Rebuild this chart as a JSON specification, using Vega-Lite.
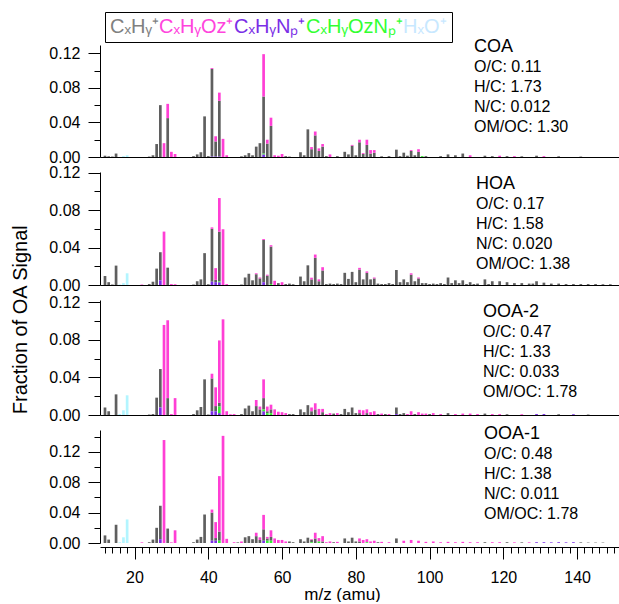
{
  "$schema": "https://vega.github.io/schema/vega-lite/v6.json",
  "padding": {"left": 10, "top": 11, "right": 0, "bottom": 0},
  "config": {
    "font": "Liberation Sans",
    "view": {"stroke": null},
    "concat": {"spacing": 15},
    "axis": {"labelFont": "Liberation Sans", "labelFontSize": 16, "labelColor": "black", "domainColor": "black", "tickColor": "black", "grid": false, "titleFont": "Liberation Sans", "titleFontWeight": "normal", "titleColor": "black", "titleFontSize": 20},
    "title": {"anchor": "start", "frame": "group", "orient": "top", "font": "Liberation Sans", "fontSize": 18, "fontWeight": "normal", "color": "black", "subtitleFont": "Liberation Sans", "subtitleFontSize": 16, "subtitleColor": "black", "subtitleLineHeight": 20, "subtitlePadding": 0}
  },
  "title": {"text": "Fraction of OA Signal", "orient": "left", "anchor": "middle", "frame": "bounds", "fontSize": 20, "offset": 18, "dx": -13, "font": "Liberation Sans", "fontWeight": "normal", "color": "black"},
  "bounds": "flush",
  "datasets": {
    "rank": [
      {"family": "CxHyNp", "rank": 1},
      {"family": "CxHyOzNp", "rank": 2},
      {"family": "CxHy", "rank": 3},
      {"family": "CxHyOz", "rank": 4},
      {"family": "HxO", "rank": 5}
    ],
    "spectra": [
      {"p":"COA","mz":12,"CxHy":0.0015},
      {"p":"COA","mz":13,"CxHy":0.0008},
      {"p":"COA","mz":14,"CxHy":0.0005},
      {"p":"COA","mz":15,"CxHy":0.004},
      {"p":"COA","mz":17,"HxO":0.001},
      {"p":"COA","mz":18,"HxO":0.002},
      {"p":"COA","mz":24,"CxHy":0.0005},
      {"p":"COA","mz":25,"CxHy":0.002},
      {"p":"COA","mz":26,"CxHy":0.015},
      {"p":"COA","mz":27,"CxHy":0.06},
      {"p":"COA","mz":28,"CxHyOz":0.016},
      {"p":"COA","mz":29,"CxHy":0.045,"CxHyOz":0.0165},
      {"p":"COA","mz":30,"CxHyOz":0.006},
      {"p":"COA","mz":31,"CxHyOz":0.0035},
      {"p":"COA","mz":36,"CxHy":0.001},
      {"p":"COA","mz":37,"CxHy":0.003},
      {"p":"COA","mz":38,"CxHy":0.0055},
      {"p":"COA","mz":39,"CxHy":0.047},
      {"p":"COA","mz":40,"CxHy":0.001},
      {"p":"COA","mz":41,"CxHyNp":0.0005,"CxHy":0.1015,"CxHyOz":0.001},
      {"p":"COA","mz":42,"CxHyNp":0.0005,"CxHy":0.0175,"CxHyOz":0.006},
      {"p":"COA","mz":43,"CxHyNp":0.0005,"CxHy":0.0645,"CxHyOz":0.0095},
      {"p":"COA","mz":44,"CxHyOz":0.021},
      {"p":"COA","mz":45,"CxHyOz":0.002},
      {"p":"COA","mz":49,"CxHy":0.0008},
      {"p":"COA","mz":50,"CxHy":0.002},
      {"p":"COA","mz":51,"CxHy":0.0045},
      {"p":"COA","mz":52,"CxHy":0.002},
      {"p":"COA","mz":53,"CxHy":0.012},
      {"p":"COA","mz":54,"CxHy":0.016},
      {"p":"COA","mz":55,"CxHyNp":0.003,"CxHyOzNp":0.001,"CxHy":0.066,"CxHyOz":0.049},
      {"p":"COA","mz":56,"CxHy":0.0155,"CxHyOz":0.0045},
      {"p":"COA","mz":57,"CxHy":0.036,"CxHyOz":0.0095},
      {"p":"COA","mz":58,"CxHyOz":0.002},
      {"p":"COA","mz":59,"CxHyOz":0.0015},
      {"p":"COA","mz":60,"CxHyOz":0.0035},
      {"p":"COA","mz":61,"CxHy":0.001},
      {"p":"COA","mz":62,"CxHy":0.0005},
      {"p":"COA","mz":65,"CxHy":0.0055},
      {"p":"COA","mz":66,"CxHy":0.002},
      {"p":"COA","mz":67,"CxHy":0.032},
      {"p":"COA","mz":68,"CxHy":0.009,"CxHyOz":0.0025},
      {"p":"COA","mz":69,"CxHy":0.025,"CxHyOz":0.0045},
      {"p":"COA","mz":70,"CxHy":0.007,"CxHyOz":0.003},
      {"p":"COA","mz":71,"CxHy":0.012,"CxHyOz":0.003},
      {"p":"COA","mz":72,"CxHy":0.001},
      {"p":"COA","mz":73,"CxHyOz":0.003},
      {"p":"COA","mz":75,"CxHy":0.001},
      {"p":"COA","mz":77,"CxHy":0.006},
      {"p":"COA","mz":78,"CxHy":0.003},
      {"p":"COA","mz":79,"CxHy":0.013,"CxHyOz":0.001},
      {"p":"COA","mz":80,"CxHy":0.002},
      {"p":"COA","mz":81,"CxHy":0.017,"CxHyOz":0.003},
      {"p":"COA","mz":82,"CxHy":0.0035,"CxHyOz":0.001},
      {"p":"COA","mz":83,"CxHy":0.014,"CxHyOz":0.006},
      {"p":"COA","mz":84,"CxHy":0.004,"CxHyOz":0.004},
      {"p":"COA","mz":85,"CxHy":0.005,"CxHyOz":0.003},
      {"p":"COA","mz":87,"CxHy":0.0008},
      {"p":"COA","mz":89,"CxHy":0.001},
      {"p":"COA","mz":91,"CxHy":0.0085},
      {"p":"COA","mz":92,"CxHy":0.001},
      {"p":"COA","mz":93,"CxHy":0.005},
      {"p":"COA","mz":94,"CxHy":0.0015},
      {"p":"COA","mz":95,"CxHy":0.007,"CxHyOz":0.001},
      {"p":"COA","mz":96,"CxHy":0.002},
      {"p":"COA","mz":97,"CxHy":0.006,"CxHyOz":0.003},
      {"p":"COA","mz":98,"CxHyOzNp":0.001},
      {"p":"COA","mz":99,"CxHy":0.001},
      {"p":"COA","mz":103,"CxHy":0.001},
      {"p":"COA","mz":105,"CxHy":0.003},
      {"p":"COA","mz":107,"CxHy":0.002},
      {"p":"COA","mz":109,"CxHy":0.004},
      {"p":"COA","mz":111,"CxHyOz":0.002},
      {"p":"COA","mz":115,"CxHy":0.0015},
      {"p":"COA","mz":117,"CxHy":0.001},
      {"p":"COA","mz":119,"CxHyOz":0.0015},
      {"p":"COA","mz":121,"CxHy":0.001},
      {"p":"COA","mz":123,"CxHyOz":0.001},
      {"p":"COA","mz":125,"CxHy":0.0008},
      {"p":"COA","mz":129,"CxHy":0.0015},
      {"p":"COA","mz":131,"CxHyOz":0.001},
      {"p":"COA","mz":135,"CxHy":0.0008},
      {"p":"COA","mz":141,"CxHy":0.0005},

      {"p":"HOA","mz":12,"CxHy":0.0096},
      {"p":"HOA","mz":13,"CxHy":0.003},
      {"p":"HOA","mz":14,"CxHy":0.0005},
      {"p":"HOA","mz":15,"CxHy":0.0207},
      {"p":"HOA","mz":16,"HxO":0.0005},
      {"p":"HOA","mz":17,"HxO":0.002},
      {"p":"HOA","mz":18,"HxO":0.0125},
      {"p":"HOA","mz":22,"CxHyOz":0.0005},
      {"p":"HOA","mz":24,"CxHy":0.001},
      {"p":"HOA","mz":25,"CxHy":0.0035},
      {"p":"HOA","mz":26,"CxHy":0.0175},
      {"p":"HOA","mz":27,"CxHyNp":0.005,"CxHy":0.03},
      {"p":"HOA","mz":28,"CxHyOz":0.057},
      {"p":"HOA","mz":29,"CxHy":0.0185},
      {"p":"HOA","mz":30,"CxHyOz":0.001},
      {"p":"HOA","mz":31,"CxHyOz":0.0008},
      {"p":"HOA","mz":36,"CxHy":0.0005},
      {"p":"HOA","mz":37,"CxHy":0.004},
      {"p":"HOA","mz":38,"CxHy":0.006},
      {"p":"HOA","mz":39,"CxHy":0.034},
      {"p":"HOA","mz":40,"CxHy":0.0008},
      {"p":"HOA","mz":41,"CxHyNp":0.0035,"CxHy":0.0565,"CxHyOz":0.0015},
      {"p":"HOA","mz":42,"CxHyNp":0.003,"CxHy":0.0025,"CxHyOz":0.0125},
      {"p":"HOA","mz":43,"CxHyNp":0.003,"CxHyOzNp":0.0008,"CxHy":0.053,"CxHyOz":0.036},
      {"p":"HOA","mz":44,"CxHyOz":0.0595},
      {"p":"HOA","mz":45,"CxHyOz":0.001},
      {"p":"HOA","mz":49,"CxHy":0.0005},
      {"p":"HOA","mz":50,"CxHy":0.008},
      {"p":"HOA","mz":51,"CxHy":0.012},
      {"p":"HOA","mz":52,"CxHy":0.005},
      {"p":"HOA","mz":53,"CxHy":0.0115,"CxHyOz":0.001},
      {"p":"HOA","mz":54,"CxHy":0.007,"CxHyOz":0.001},
      {"p":"HOA","mz":55,"CxHyNp":0.003,"CxHy":0.045,"CxHyOz":0.001},
      {"p":"HOA","mz":56,"CxHy":0.01,"CxHyOz":0.001},
      {"p":"HOA","mz":57,"CxHyOzNp":0.001,"CxHy":0.04,"CxHyOz":0.0015},
      {"p":"HOA","mz":58,"CxHyOz":0.0045},
      {"p":"HOA","mz":59,"CxHy":0.002},
      {"p":"HOA","mz":60,"CxHyOz":0.003},
      {"p":"HOA","mz":61,"CxHy":0.001},
      {"p":"HOA","mz":62,"CxHy":0.0015},
      {"p":"HOA","mz":63,"CxHy":0.0008},
      {"p":"HOA","mz":65,"CxHy":0.009},
      {"p":"HOA","mz":66,"CxHy":0.004},
      {"p":"HOA","mz":67,"CxHy":0.021},
      {"p":"HOA","mz":68,"CxHy":0.006,"CxHyOz":0.0018},
      {"p":"HOA","mz":69,"CxHy":0.029,"CxHyOz":0.0035},
      {"p":"HOA","mz":70,"CxHy":0.004,"CxHyOz":0.002},
      {"p":"HOA","mz":71,"CxHy":0.0155,"CxHyOz":0.0035},
      {"p":"HOA","mz":72,"CxHy":0.001},
      {"p":"HOA","mz":73,"CxHy":0.0015},
      {"p":"HOA","mz":74,"CxHy":0.001},
      {"p":"HOA","mz":75,"CxHy":0.0015},
      {"p":"HOA","mz":76,"CxHy":0.001},
      {"p":"HOA","mz":77,"CxHy":0.013},
      {"p":"HOA","mz":78,"CxHy":0.0065},
      {"p":"HOA","mz":79,"CxHy":0.014},
      {"p":"HOA","mz":80,"CxHy":0.003},
      {"p":"HOA","mz":81,"CxHy":0.0165,"CxHyOz":0.0018},
      {"p":"HOA","mz":82,"CxHy":0.006},
      {"p":"HOA","mz":83,"CxHy":0.013,"CxHyOz":0.0015},
      {"p":"HOA","mz":84,"CxHy":0.006},
      {"p":"HOA","mz":85,"CxHy":0.007,"CxHyOz":0.001},
      {"p":"HOA","mz":86,"CxHy":0.0015},
      {"p":"HOA","mz":87,"CxHy":0.001},
      {"p":"HOA","mz":88,"CxHy":0.001},
      {"p":"HOA","mz":89,"CxHy":0.002},
      {"p":"HOA","mz":90,"CxHy":0.001},
      {"p":"HOA","mz":91,"CxHy":0.016},
      {"p":"HOA","mz":92,"CxHy":0.003},
      {"p":"HOA","mz":93,"CxHy":0.006},
      {"p":"HOA","mz":94,"CxHy":0.003},
      {"p":"HOA","mz":95,"CxHy":0.011,"CxHyOz":0.0015},
      {"p":"HOA","mz":96,"CxHy":0.004},
      {"p":"HOA","mz":97,"CxHy":0.007,"CxHyOz":0.001},
      {"p":"HOA","mz":98,"CxHy":0.002},
      {"p":"HOA","mz":99,"CxHy":0.002},
      {"p":"HOA","mz":100,"CxHy":0.001},
      {"p":"HOA","mz":101,"CxHy":0.0015},
      {"p":"HOA","mz":102,"CxHy":0.001},
      {"p":"HOA","mz":103,"CxHy":0.002},
      {"p":"HOA","mz":104,"CxHy":0.001},
      {"p":"HOA","mz":105,"CxHy":0.008},
      {"p":"HOA","mz":106,"CxHy":0.002},
      {"p":"HOA","mz":107,"CxHy":0.005},
      {"p":"HOA","mz":108,"CxHy":0.002},
      {"p":"HOA","mz":109,"CxHy":0.005},
      {"p":"HOA","mz":110,"CxHy":0.001},
      {"p":"HOA","mz":111,"CxHy":0.003},
      {"p":"HOA","mz":112,"CxHy":0.001},
      {"p":"HOA","mz":113,"CxHy":0.0015},
      {"p":"HOA","mz":115,"CxHy":0.006},
      {"p":"HOA","mz":116,"CxHy":0.001},
      {"p":"HOA","mz":117,"CxHy":0.004},
      {"p":"HOA","mz":119,"CxHy":0.004},
      {"p":"HOA","mz":121,"CxHy":0.003},
      {"p":"HOA","mz":123,"CxHy":0.002},
      {"p":"HOA","mz":125,"CxHy":0.002},
      {"p":"HOA","mz":127,"CxHy":0.0015},
      {"p":"HOA","mz":128,"CxHy":0.0015},
      {"p":"HOA","mz":129,"CxHy":0.004},
      {"p":"HOA","mz":131,"CxHy":0.0025},
      {"p":"HOA","mz":133,"CxHy":0.0015},
      {"p":"HOA","mz":135,"CxHy":0.0015},
      {"p":"HOA","mz":137,"CxHy":0.001},
      {"p":"HOA","mz":139,"CxHy":0.001},
      {"p":"HOA","mz":141,"CxHy":0.001},
      {"p":"HOA","mz":143,"CxHy":0.001},
      {"p":"HOA","mz":145,"CxHy":0.001},
      {"p":"HOA","mz":147,"CxHy":0.0008},
      {"p":"HOA","mz":149,"CxHy":0.0008},

      {"p":"OOA-2","mz":12,"CxHy":0.008},
      {"p":"OOA-2","mz":13,"CxHy":0.004},
      {"p":"OOA-2","mz":15,"CxHy":0.022},
      {"p":"OOA-2","mz":16,"HxO":0.001},
      {"p":"OOA-2","mz":17,"HxO":0.005},
      {"p":"OOA-2","mz":18,"HxO":0.021},
      {"p":"OOA-2","mz":24,"CxHy":0.0005},
      {"p":"OOA-2","mz":25,"CxHy":0.001},
      {"p":"OOA-2","mz":26,"CxHy":0.0185},
      {"p":"OOA-2","mz":27,"CxHyNp":0.008,"CxHy":0.041},
      {"p":"OOA-2","mz":28,"CxHyOz":0.096},
      {"p":"OOA-2","mz":29,"CxHy":0.018,"CxHyOz":0.083},
      {"p":"OOA-2","mz":30,"CxHyOz":0.001},
      {"p":"OOA-2","mz":31,"CxHyOz":0.018},
      {"p":"OOA-2","mz":36,"CxHy":0.001},
      {"p":"OOA-2","mz":37,"CxHy":0.005},
      {"p":"OOA-2","mz":38,"CxHy":0.0085},
      {"p":"OOA-2","mz":39,"CxHy":0.038},
      {"p":"OOA-2","mz":40,"CxHy":0.0005},
      {"p":"OOA-2","mz":41,"CxHyNp":0.004,"CxHy":0.035,"CxHyOz":0.005},
      {"p":"OOA-2","mz":42,"CxHyNp":0.004,"CxHy":0.0055,"CxHyOz":0.02},
      {"p":"OOA-2","mz":43,"CxHyNp":0.002,"CxHyOzNp":0.007,"CxHy":0.004,"CxHyOz":0.0665},
      {"p":"OOA-2","mz":44,"CxHyOz":0.102},
      {"p":"OOA-2","mz":45,"CxHyOz":0.004},
      {"p":"OOA-2","mz":46,"CxHyOz":0.0008},
      {"p":"OOA-2","mz":47,"CxHyOz":0.001},
      {"p":"OOA-2","mz":49,"CxHy":0.001},
      {"p":"OOA-2","mz":50,"CxHy":0.007},
      {"p":"OOA-2","mz":51,"CxHy":0.01},
      {"p":"OOA-2","mz":52,"CxHy":0.004},
      {"p":"OOA-2","mz":53,"CxHy":0.0095,"CxHyOz":0.0065},
      {"p":"OOA-2","mz":54,"CxHy":0.006,"CxHyOz":0.003},
      {"p":"OOA-2","mz":55,"CxHyNp":0.004,"CxHyOzNp":0.002,"CxHy":0.012,"CxHyOz":0.02},
      {"p":"OOA-2","mz":56,"CxHyOzNp":0.002,"CxHy":0.002,"CxHyOz":0.005},
      {"p":"OOA-2","mz":57,"CxHyOzNp":0.002,"CxHy":0.004,"CxHyOz":0.005},
      {"p":"OOA-2","mz":58,"CxHyOz":0.006},
      {"p":"OOA-2","mz":59,"CxHyOz":0.0035},
      {"p":"OOA-2","mz":60,"CxHyOz":0.003},
      {"p":"OOA-2","mz":61,"CxHyOz":0.002},
      {"p":"OOA-2","mz":62,"CxHy":0.001},
      {"p":"OOA-2","mz":63,"CxHy":0.001},
      {"p":"OOA-2","mz":65,"CxHy":0.006},
      {"p":"OOA-2","mz":66,"CxHy":0.003},
      {"p":"OOA-2","mz":67,"CxHy":0.0105},
      {"p":"OOA-2","mz":68,"CxHy":0.004,"CxHyOz":0.004},
      {"p":"OOA-2","mz":69,"CxHy":0.006,"CxHyOz":0.0065},
      {"p":"OOA-2","mz":70,"CxHyOz":0.0065},
      {"p":"OOA-2","mz":71,"CxHy":0.003,"CxHyOz":0.0035},
      {"p":"OOA-2","mz":72,"CxHyOz":0.001},
      {"p":"OOA-2","mz":73,"CxHyOz":0.002},
      {"p":"OOA-2","mz":74,"CxHy":0.0015},
      {"p":"OOA-2","mz":75,"CxHyOz":0.002},
      {"p":"OOA-2","mz":76,"CxHy":0.001},
      {"p":"OOA-2","mz":77,"CxHy":0.0065},
      {"p":"OOA-2","mz":78,"CxHy":0.003},
      {"p":"OOA-2","mz":79,"CxHy":0.008},
      {"p":"OOA-2","mz":80,"CxHy":0.002},
      {"p":"OOA-2","mz":81,"CxHy":0.002,"CxHyOz":0.0035},
      {"p":"OOA-2","mz":82,"CxHyOz":0.005},
      {"p":"OOA-2","mz":83,"CxHy":0.002,"CxHyOz":0.004},
      {"p":"OOA-2","mz":84,"CxHyOz":0.003},
      {"p":"OOA-2","mz":85,"CxHyOz":0.004},
      {"p":"OOA-2","mz":86,"CxHy":0.001},
      {"p":"OOA-2","mz":87,"CxHyOz":0.0015},
      {"p":"OOA-2","mz":88,"CxHy":0.001},
      {"p":"OOA-2","mz":89,"CxHyOz":0.001},
      {"p":"OOA-2","mz":91,"CxHyNp":0.001,"CxHy":0.007},
      {"p":"OOA-2","mz":92,"CxHy":0.001},
      {"p":"OOA-2","mz":93,"CxHy":0.002},
      {"p":"OOA-2","mz":94,"CxHyOz":0.001},
      {"p":"OOA-2","mz":95,"CxHyOz":0.004},
      {"p":"OOA-2","mz":96,"CxHy":0.001},
      {"p":"OOA-2","mz":97,"CxHyOz":0.003},
      {"p":"OOA-2","mz":98,"CxHyOz":0.0015},
      {"p":"OOA-2","mz":99,"CxHyOz":0.0015},
      {"p":"OOA-2","mz":100,"CxHy":0.001},
      {"p":"OOA-2","mz":101,"CxHyOz":0.002},
      {"p":"OOA-2","mz":103,"CxHyOz":0.001},
      {"p":"OOA-2","mz":105,"CxHy":0.002},
      {"p":"OOA-2","mz":107,"CxHyOz":0.001},
      {"p":"OOA-2","mz":109,"CxHyOz":0.0015},
      {"p":"OOA-2","mz":111,"CxHyOz":0.0015},
      {"p":"OOA-2","mz":113,"CxHyOz":0.001},
      {"p":"OOA-2","mz":115,"CxHy":0.0015},
      {"p":"OOA-2","mz":117,"CxHyOz":0.001},
      {"p":"OOA-2","mz":119,"CxHyOz":0.001},
      {"p":"OOA-2","mz":121,"CxHy":0.0008},
      {"p":"OOA-2","mz":125,"CxHyOz":0.0008},
      {"p":"OOA-2","mz":129,"CxHyNp":0.001},
      {"p":"OOA-2","mz":131,"CxHyNp":0.001},
      {"p":"OOA-2","mz":135,"CxHy":0.0008},
      {"p":"OOA-2","mz":139,"CxHyNp":0.0008},
      {"p":"OOA-2","mz":143,"CxHy":0.0005},

      {"p":"OOA-1","mz":12,"CxHy":0.01},
      {"p":"OOA-1","mz":13,"CxHy":0.0045},
      {"p":"OOA-1","mz":15,"CxHy":0.024},
      {"p":"OOA-1","mz":16,"HxO":0.001},
      {"p":"OOA-1","mz":17,"HxO":0.0075},
      {"p":"OOA-1","mz":18,"HxO":0.031},
      {"p":"OOA-1","mz":22,"CxHyOz":0.0008},
      {"p":"OOA-1","mz":24,"CxHy":0.001},
      {"p":"OOA-1","mz":25,"CxHy":0.0045},
      {"p":"OOA-1","mz":26,"CxHy":0.02},
      {"p":"OOA-1","mz":27,"CxHyNp":0.005,"CxHy":0.044},
      {"p":"OOA-1","mz":28,"CxHyOz":0.1355},
      {"p":"OOA-1","mz":29,"CxHy":0.019},
      {"p":"OOA-1","mz":30,"CxHyOz":0.0008},
      {"p":"OOA-1","mz":31,"CxHyOz":0.0167},
      {"p":"OOA-1","mz":36,"CxHy":0.001},
      {"p":"OOA-1","mz":37,"CxHy":0.0045},
      {"p":"OOA-1","mz":38,"CxHy":0.008},
      {"p":"OOA-1","mz":39,"CxHy":0.0375},
      {"p":"OOA-1","mz":41,"CxHyNp":0.003,"CxHy":0.037,"CxHyOz":0.004},
      {"p":"OOA-1","mz":42,"CxHyNp":0.003,"CxHy":0.0035,"CxHyOz":0.021},
      {"p":"OOA-1","mz":43,"CxHyOzNp":0.003,"CxHy":0.012,"CxHyOz":0.073},
      {"p":"OOA-1","mz":44,"CxHyOz":0.141},
      {"p":"OOA-1","mz":45,"CxHyOz":0.0055},
      {"p":"OOA-1","mz":47,"CxHyOz":0.001},
      {"p":"OOA-1","mz":48,"CxHy":0.0008},
      {"p":"OOA-1","mz":49,"CxHyOz":0.002},
      {"p":"OOA-1","mz":50,"CxHy":0.0075},
      {"p":"OOA-1","mz":51,"CxHy":0.009},
      {"p":"OOA-1","mz":52,"CxHy":0.005},
      {"p":"OOA-1","mz":53,"CxHy":0.009,"CxHyOz":0.0045},
      {"p":"OOA-1","mz":54,"CxHy":0.004,"CxHyOz":0.0035},
      {"p":"OOA-1","mz":55,"CxHyNp":0.003,"CxHy":0.015,"CxHyOz":0.019},
      {"p":"OOA-1","mz":56,"CxHyOzNp":0.003,"CxHy":0.003,"CxHyOz":0.002},
      {"p":"OOA-1","mz":57,"CxHyOzNp":0.003,"CxHy":0.005,"CxHyOz":0.0087},
      {"p":"OOA-1","mz":58,"CxHyOz":0.006},
      {"p":"OOA-1","mz":59,"CxHyOz":0.004},
      {"p":"OOA-1","mz":60,"CxHyOz":0.004},
      {"p":"OOA-1","mz":61,"CxHyOz":0.002},
      {"p":"OOA-1","mz":62,"CxHy":0.002},
      {"p":"OOA-1","mz":63,"CxHy":0.001},
      {"p":"OOA-1","mz":65,"CxHy":0.005},
      {"p":"OOA-1","mz":66,"CxHy":0.002},
      {"p":"OOA-1","mz":67,"CxHy":0.007},
      {"p":"OOA-1","mz":68,"CxHyOzNp":0.001,"CxHy":0.003,"CxHyOz":0.001},
      {"p":"OOA-1","mz":69,"CxHy":0.006,"CxHyOz":0.0075},
      {"p":"OOA-1","mz":70,"CxHyOzNp":0.002,"CxHyOz":0.0045},
      {"p":"OOA-1","mz":71,"CxHy":0.002,"CxHyOz":0.007},
      {"p":"OOA-1","mz":72,"CxHyOz":0.001},
      {"p":"OOA-1","mz":73,"CxHyOz":0.002},
      {"p":"OOA-1","mz":74,"CxHy":0.001},
      {"p":"OOA-1","mz":75,"CxHyOz":0.0015},
      {"p":"OOA-1","mz":77,"CxHy":0.006},
      {"p":"OOA-1","mz":78,"CxHy":0.002},
      {"p":"OOA-1","mz":79,"CxHy":0.007},
      {"p":"OOA-1","mz":80,"CxHy":0.002},
      {"p":"OOA-1","mz":81,"CxHy":0.002,"CxHyOz":0.004},
      {"p":"OOA-1","mz":82,"CxHyOz":0.004},
      {"p":"OOA-1","mz":83,"CxHyOzNp":0.001,"CxHyOz":0.004},
      {"p":"OOA-1","mz":84,"CxHyOz":0.002},
      {"p":"OOA-1","mz":85,"CxHyOz":0.003},
      {"p":"OOA-1","mz":86,"CxHy":0.001},
      {"p":"OOA-1","mz":87,"CxHyOz":0.0015},
      {"p":"OOA-1","mz":89,"CxHyOz":0.001},
      {"p":"OOA-1","mz":91,"CxHy":0.006},
      {"p":"OOA-1","mz":93,"CxHyOz":0.003},
      {"p":"OOA-1","mz":95,"CxHyOz":0.004},
      {"p":"OOA-1","mz":97,"CxHyOz":0.003},
      {"p":"OOA-1","mz":99,"CxHyOz":0.0015},
      {"p":"OOA-1","mz":101,"CxHyOz":0.002},
      {"p":"OOA-1","mz":103,"CxHyOz":0.001},
      {"p":"OOA-1","mz":105,"CxHyOz":0.0015},
      {"p":"OOA-1","mz":107,"CxHyOz":0.001},
      {"p":"OOA-1","mz":109,"CxHyOz":0.0015},
      {"p":"OOA-1","mz":111,"CxHyOz":0.001},
      {"p":"OOA-1","mz":113,"CxHyOz":0.001},
      {"p":"OOA-1","mz":115,"CxHy":0.001},
      {"p":"OOA-1","mz":117,"CxHyOz":0.001},
      {"p":"OOA-1","mz":119,"CxHyOz":0.001},
      {"p":"OOA-1","mz":121,"CxHy":0.001},
      {"p":"OOA-1","mz":123,"CxHyOz":0.0008},
      {"p":"OOA-1","mz":125,"CxHy":0.0008},
      {"p":"OOA-1","mz":127,"CxHyOz":0.0008},
      {"p":"OOA-1","mz":129,"CxHyNp":0.001},
      {"p":"OOA-1","mz":131,"CxHyNp":0.001},
      {"p":"OOA-1","mz":133,"CxHyNp":0.0008},
      {"p":"OOA-1","mz":135,"CxHyNp":0.001},
      {"p":"OOA-1","mz":137,"CxHyNp":0.0008},
      {"p":"OOA-1","mz":139,"CxHyNp":0.001},
      {"p":"OOA-1","mz":141,"CxHy":0.0008},
      {"p":"OOA-1","mz":143,"CxHy":0.0005},
      {"p":"OOA-1","mz":145,"CxHy":0.0005},
      {"p":"OOA-1","mz":147,"CxHy":0.0005}
    ]
  },
  "data": {"name": "spectra"},
  "transform": [
    {"fold": ["CxHy", "CxHyOz", "CxHyNp", "CxHyOzNp", "HxO"], "as": ["family", "value"]},
    {"filter": "isValid(datum.value) && datum.value > 0"},
    {"lookup": "family", "from": {"data": {"name": "rank"}, "key": "family", "fields": ["rank"]}}
  ],
  "resolve": {"scale": {"x": "independent", "y": "independent", "color": "shared"}},
  "vconcat": [
    {
      "width": 519, "height": 112,
      "title": {"text": "\u2009COA", "subtitle": ["O/C: 0.11", "H/C: 1.73", "N/C: 0.012", "OM/OC: 1.30"], "dx": 374, "offset": -90},
      "transform": [{"filter": "datum.p === 'COA'"}],
      "mark": {"type": "bar", "size": 2.7},
      "encoding": {
        "x": {"field": "mz", "type": "quantitative", "scale": {"domain": [12, 150], "nice": false, "zero": false}, "axis": {"labels": false, "ticks": false, "title": null}},
        "y": {"field": "value", "type": "quantitative", "stack": "zero", "scale": {"domain": [0, 0.1296], "nice": false},
          "axis": {"values": [0, 0.02, 0.04, 0.06, 0.08, 0.1, 0.12], "format": ".2f", "title": null, "labelPadding": 8,
            "labelExpr": "abs(datum.value*25 - round(datum.value*25)) < 0.001 ? datum.label : ''",
            "tickSize": {"condition": {"test": "abs(datum.value*25 - round(datum.value*25)) < 0.001", "value": 12}, "value": 6}}},
        "color": {"field": "family", "type": "nominal",
          "scale": {"domain": ["CxHy", "CxHyOz", "CxHyNp", "CxHyOzNp", "HxO"], "range": ["#5f5f5f", "#ff3fd5", "#7a2ee6", "#33ee33", "#b3f5ff"]},
          "legend": {"orient": "none", "legendX": 5, "legendY": -33, "direction": "horizontal", "columns": 5, "title": null,
            "symbolSize": 0, "symbolStrokeWidth": 0, "symbolOpacity": 0, "labelOffset": -20, "columnPadding": 0,
            "labelFont": "Liberation Sans", "labelFontSize": 20, "labelLimit": 0, "strokeColor": "black", "fillColor": "white", "padding": 5,
            "labelExpr": "datum.label == 'CxHy' ? 'C\u2093H\u1d67\u207a' : datum.label == 'CxHyOz' ? 'C\u2093H\u1d67O\u1d22\u207a' : datum.label == 'CxHyNp' ? 'C\u2093H\u1d67N\u209a\u207a' : datum.label == 'CxHyOzNp' ? 'C\u2093H\u1d67O\u1d22N\u209a\u207a' : 'H\u2093O\u207a'",
            "encoding": {"labels": {"fill": {"condition": [
              {"test": "datum.value == 'CxHy'", "value": "#808080"},
              {"test": "datum.value == 'CxHyOz'", "value": "#ff44dd"},
              {"test": "datum.value == 'CxHyNp'", "value": "#7a2ee6"},
              {"test": "datum.value == 'CxHyOzNp'", "value": "#33ff33"}
            ], "value": "#c8e8ff"}}}}},
        "order": {"field": "rank", "type": "quantitative", "sort": "ascending"}
      }
    },
    {
      "width": 519, "height": 113,
      "title": {"text": "\u2002HOA", "subtitle": ["O/C: 0.17", "H/C: 1.58", "N/C: 0.020", "OM/OC: 1.38"], "dx": 376, "offset": -107},
      "transform": [{"filter": "datum.p === 'HOA'"}],
      "mark": {"type": "bar", "size": 2.7},
      "encoding": {
        "x": {"field": "mz", "type": "quantitative", "scale": {"domain": [12, 150], "nice": false, "zero": false}, "axis": {"labels": false, "ticks": false, "title": null}},
        "y": {"field": "value", "type": "quantitative", "stack": "zero", "scale": {"domain": [0, 0.1206], "nice": false},
          "axis": {"values": [0, 0.02, 0.04, 0.06, 0.08, 0.1, 0.12], "format": ".2f", "labelPadding": 8, "title": null,
            "labelExpr": "abs(datum.value*25 - round(datum.value*25)) < 0.001 ? datum.label : ''",
            "tickSize": {"condition": {"test": "abs(datum.value*25 - round(datum.value*25)) < 0.001", "value": 12}, "value": 6}}},
        "color": {"field": "family", "type": "nominal",
          "scale": {"domain": ["CxHy", "CxHyOz", "CxHyNp", "CxHyOzNp", "HxO"], "range": ["#5f5f5f", "#ff3fd5", "#7a2ee6", "#33ee33", "#b3f5ff"]}},
        "order": {"field": "rank", "type": "quantitative", "sort": "ascending"}
      }
    },
    {
      "width": 519, "height": 115,
      "title": {"text": "OOA-2", "subtitle": ["O/C: 0.47", "H/C: 1.33", "N/C: 0.033", "OM/OC: 1.78"], "dx": 383, "offset": -106},
      "transform": [{"filter": "datum.p === 'OOA-2'"}],
      "mark": {"type": "bar", "size": 2.7},
      "encoding": {
        "x": {"field": "mz", "type": "quantitative", "scale": {"domain": [12, 150], "nice": false, "zero": false}, "axis": {"labels": false, "ticks": false, "title": null}},
        "y": {"field": "value", "type": "quantitative", "stack": "zero", "scale": {"domain": [0, 0.1226], "nice": false},
          "axis": {"values": [0, 0.02, 0.04, 0.06, 0.08, 0.1, 0.12], "format": ".2f", "title": null, "labelPadding": 8,
            "labelExpr": "abs(datum.value*25 - round(datum.value*25)) < 0.001 ? datum.label : ''",
            "tickSize": {"condition": {"test": "abs(datum.value*25 - round(datum.value*25)) < 0.001", "value": 12}, "value": 6}}},
        "color": {"field": "family", "type": "nominal",
          "scale": {"domain": ["CxHy", "CxHyOz", "CxHyNp", "CxHyOzNp", "HxO"], "range": ["#5f5f5f", "#ff3fd5", "#7a2ee6", "#33ee33", "#b3f5ff"]}},
        "order": {"field": "rank", "type": "quantitative", "sort": "ascending"}
      }
    },
    {
      "width": 519, "height": 113,
      "title": {"text": "OOA-1", "subtitle": ["O/C: 0.48", "H/C: 1.38", "N/C: 0.011", "OM/OC: 1.78"], "dx": 384, "offset": -92},
      "transform": [{"filter": "datum.p === 'OOA-1'"}],
      "mark": {"type": "bar", "size": 2.7},
      "encoding": {
        "x": {"field": "mz", "type": "quantitative", "scale": {"domain": [12, 150], "nice": false, "zero": false},
          "axis": {"values": [12,14,16,18,20,22,24,26,28,30,32,34,36,38,40,42,44,46,48,50,52,54,56,58,60,62,64,66,68,70,72,74,76,78,80,82,84,86,88,90,92,94,96,98,100,102,104,106,108,110,112,114,116,118,120,122,124,126,128,130,132,134,136,138,140,142,144,146,148,150],
            "format": "d", "offset": 4, "labelPadding": 10, "labelExpr": "datum.value % 20 === 0 ? datum.label : ''",
            "tickSize": {"condition": {"test": "datum.value % 20 === 0", "value": 12}, "value": 6},
            "title": "m/z  (amu)", "titleFontSize": 17, "titlePadding": 1, "titleX": 242}},
        "y": {"field": "value", "type": "quantitative", "stack": "zero", "scale": {"domain": [0, 0.1487], "nice": false},
          "axis": {"values": [0, 0.02, 0.04, 0.06, 0.08, 0.1, 0.12, 0.14], "format": ".2f", "title": null, "labelPadding": 8,
            "labelExpr": "abs(datum.value*25 - round(datum.value*25)) < 0.001 ? datum.label : ''",
            "tickSize": {"condition": {"test": "abs(datum.value*25 - round(datum.value*25)) < 0.001", "value": 12}, "value": 6}}},
        "color": {"field": "family", "type": "nominal",
          "scale": {"domain": ["CxHy", "CxHyOz", "CxHyNp", "CxHyOzNp", "HxO"], "range": ["#5f5f5f", "#ff3fd5", "#7a2ee6", "#33ee33", "#b3f5ff"]}},
        "order": {"field": "rank", "type": "quantitative", "sort": "ascending"}
      }
    }
  ]
}
